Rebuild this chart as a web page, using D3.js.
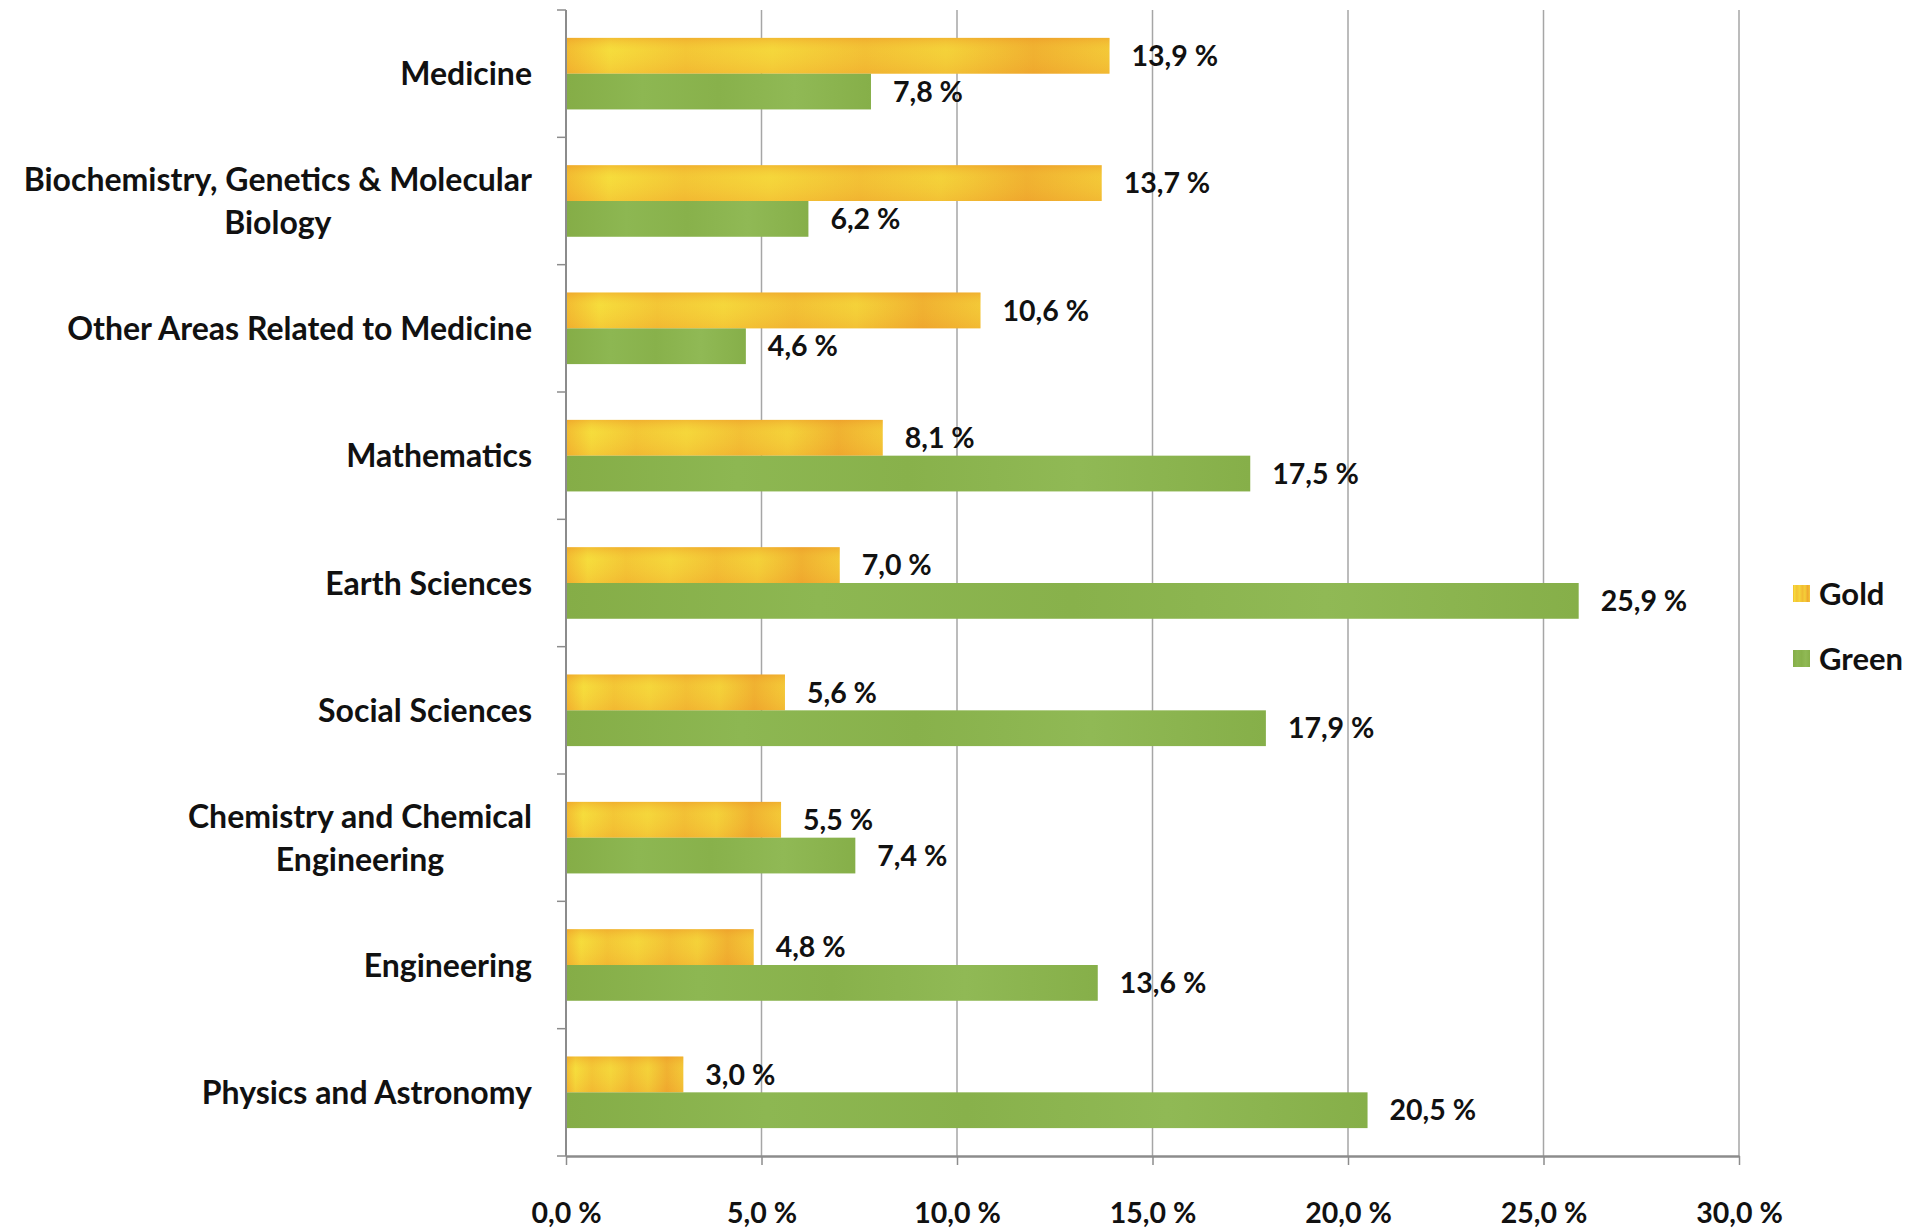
<!DOCTYPE html>
<html>
<head>
<meta charset="utf-8">
<script src="https://cdn.jsdelivr.net/npm/d3@7"></script>
<style>
  body { margin: 0; background: #fff; }
  text { font-family: Lato, "Open Sans", sans-serif; font-weight: 700; fill: #111; }
</style>
</head>
<body>
<svg id="chart" width="1909" height="1228"></svg>
<script>
// shares per subject area, open access route
const categories = [
  "Medicine",
  "Biochemistry, Genetics & Molecular|Biology",
  "Other Areas Related to Medicine",
  "Mathematics",
  "Earth Sciences",
  "Social Sciences",
  "Chemistry and Chemical|Engineering",
  "Engineering",
  "Physics and Astronomy"
];
const series = ["Gold", "Green"];
const gold = [13.9, 13.7, 10.6, 8.1, 7.0, 5.6, 5.5, 4.8, 3.0];
const green = [7.8, 6.2, 4.6, 17.5, 25.9, 17.9, 7.4, 13.6, 20.5];
const xTicks = [0, 5, 10, 15, 20, 25, 30];

const svg = d3.select("#chart");
const plotL = 566, plotR = 1739, plotT = 10, plotB = 1156;

const x = d3.scaleLinear().domain([0, 30]).range([plotL, plotR]);
const y = d3.scaleBand().domain(categories).range([plotT, plotB]);
const y1 = d3.scaleBand().domain(series).range([0, y.bandwidth()]).paddingOuter(0.78);

const fmt = v => v.toFixed(1).replace(".", ",") + " %";

// fills: mottled gold and green
const defs = svg.append("defs");
const goldGrad = defs.append("linearGradient").attr("id", "goldFill");
[["0", "#f2b42e"], ["0.08", "#f6dc3b"], ["0.22", "#f3c234"], ["0.38", "#f5d53a"],
 ["0.55", "#f2bb33"], ["0.7", "#f4cf38"], ["0.86", "#efa92e"], ["1", "#f3c436"]]
  .forEach(s => goldGrad.append("stop").attr("offset", s[0]).attr("stop-color", s[1]));
const goldV = defs.append("linearGradient").attr("id", "goldShade").attr("x2", 0).attr("y2", 1);
goldV.append("stop").attr("offset", 0).attr("stop-color", "#ee9a28").attr("stop-opacity", 0.45);
goldV.append("stop").attr("offset", 0.35).attr("stop-color", "#f6e040").attr("stop-opacity", 0.15);
goldV.append("stop").attr("offset", 1).attr("stop-color", "#efa02c").attr("stop-opacity", 0.3);
const greenGrad = defs.append("linearGradient").attr("id", "greenFill");
[["0", "#85ad47"], ["0.25", "#8db752"], ["0.5", "#88b14b"], ["0.75", "#90b955"], ["1", "#86af49"]]
  .forEach(s => greenGrad.append("stop").attr("offset", s[0]).attr("stop-color", s[1]));

// vertical gridlines
svg.append("g")
  .selectAll("line")
  .data(xTicks.slice(1))
  .join("line")
  .attr("x1", d => x(d)).attr("x2", d => x(d))
  .attr("y1", plotT).attr("y2", plotB)
  .attr("stroke", "#a6a6a6").attr("stroke-width", 1.5);

// bars
const rows = categories.map((c, i) => ({ cat: c, Gold: gold[i], Green: green[i] }));
const groups = svg.append("g")
  .selectAll("g")
  .data(rows)
  .join("g")
  .attr("transform", d => `translate(0,${y(d.cat)})`);

groups.selectAll("rect.bar")
  .data(d => series.map(s => ({ s, v: d[s] })))
  .join("rect")
  .attr("class", "bar")
  .attr("x", x(0))
  .attr("y", d => y1(d.s))
  .attr("width", d => x(d.v) - x(0))
  .attr("height", y1.bandwidth())
  .attr("fill", d => d.s === "Gold" ? "url(#goldFill)" : "url(#greenFill)");

groups.selectAll("rect.shade")
  .data(d => [{ s: "Gold", v: d.Gold }])
  .join("rect")
  .attr("class", "shade")
  .attr("x", x(0))
  .attr("y", d => y1(d.s))
  .attr("width", d => x(d.v) - x(0))
  .attr("height", y1.bandwidth())
  .attr("fill", "url(#goldShade)");

groups.selectAll("text.val")
  .data(d => series.map(s => ({ s, v: d[s] })))
  .join("text")
  .attr("class", "val")
  .attr("x", d => x(d.v) + 22)
  .attr("y", d => y1(d.s) + y1.bandwidth() / 2)
  .attr("dy", "0.36em")
  .attr("font-size", 28.5)
  .text(d => fmt(d.v));

// left axis with ticks at category boundaries
const yAxis = svg.append("g");
yAxis.append("line")
  .attr("x1", plotL).attr("x2", plotL).attr("y1", plotT).attr("y2", plotB)
  .attr("stroke", "#8c8c8c").attr("stroke-width", 2);
yAxis.selectAll("line.tk")
  .data(categories.map(c => y(c)).concat([plotB]))
  .join("line")
  .attr("class", "tk")
  .attr("x1", plotL - 9).attr("x2", plotL)
  .attr("y1", d => d).attr("y2", d => d)
  .attr("stroke", "#8c8c8c").attr("stroke-width", 1.5);

// category labels: block right aligned, lines centred
const labelRight = 532;
categories.forEach(c => {
  const lines = c.split("|");
  const cy = y(c) + y.bandwidth() / 2;
  const t = svg.append("text").attr("font-size", 32).attr("text-anchor", "middle");
  lines.forEach((l, i) => {
    t.append("tspan").attr("x", 0)
      .attr("y", cy + (i - (lines.length - 1) / 2) * 43)
      .attr("dy", "0.36em").text(l);
  });
  let w = 0;
  t.selectAll("tspan").each(function () { w = Math.max(w, this.getComputedTextLength()); });
  t.selectAll("tspan").attr("x", labelRight - w / 2);
});

// bottom axis
const xAxis = svg.append("g")
  .attr("transform", `translate(0,${plotB})`)
  .call(d3.axisBottom(x).tickValues(xTicks).tickSize(9).tickFormat(fmt).tickSizeOuter(0));
xAxis.attr("font-family", null).attr("font-size", null);
xAxis.select(".domain").attr("stroke", "#8c8c8c").attr("stroke-width", 2.5);
xAxis.selectAll(".tick line").attr("stroke", "#8c8c8c").attr("stroke-width", 1.5);
xAxis.selectAll(".tick text")
  .attr("font-size", 28.5).attr("fill", "#111")
  .attr("y", 47);

// legend
const legend = svg.append("g")
  .selectAll("g")
  .data(series)
  .join("g")
  .attr("transform", (d, i) => `translate(1793,${594 + i * 65})`);
legend.append("rect")
  .attr("x", 0).attr("y", -9).attr("width", 17).attr("height", 17)
  .attr("fill", d => d === "Gold" ? "url(#goldFill)" : "url(#greenFill)");
legend.append("text")
  .attr("x", 26).attr("dy", "0.36em").attr("font-size", 31)
  .text(d => d);
</script>
</body>
</html>
